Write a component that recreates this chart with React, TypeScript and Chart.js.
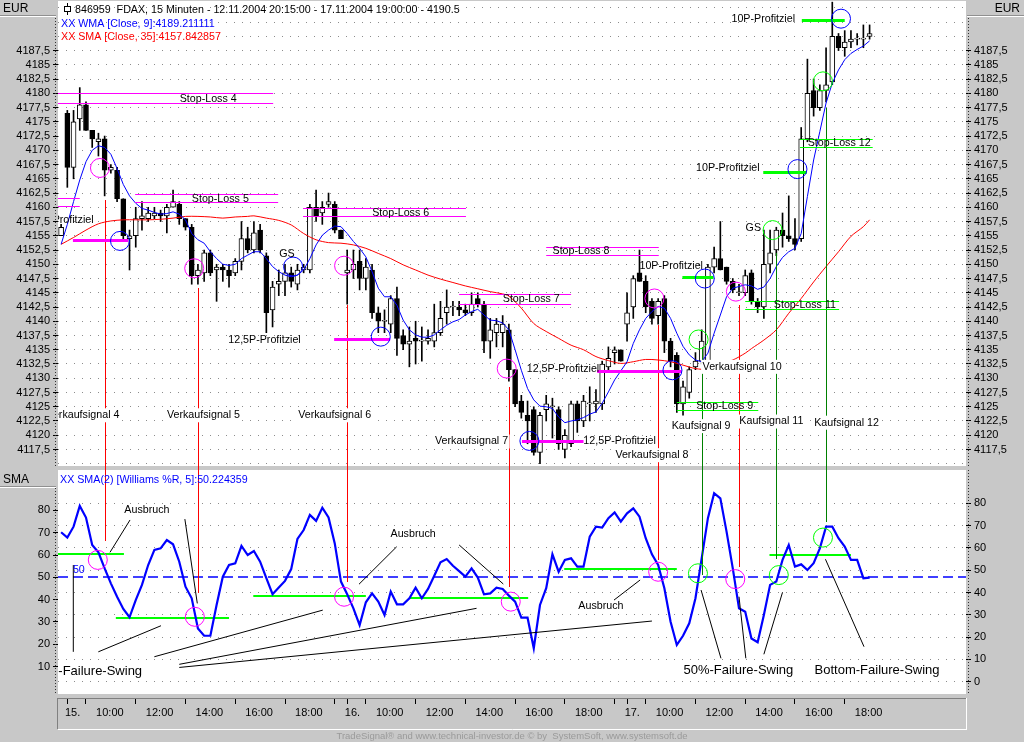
import React, { useEffect, useRef } from "react";
import { Chart, registerables } from "chart.js";

Chart.register(...registerables);
Chart.defaults.font.family = "'Liberation Sans', Arial, sans-serif";
Chart.defaults.font.size = 11;
Chart.defaults.color = "#000";

const GRAY = "#c8c8c8";
const FONT = "10.7px 'Liberation Sans', Arial, sans-serif";
const BIG = "13px 'Liberation Sans', Arial, sans-serif";
const MAG = "#ff00ff";
const GRN = "#00ff00";
const DGRN = "#008000";
const RED = "#ff0000";
const BLUE = "#0000ff";
const RING = 9.5;

// ---- time axis ----
const dayStarts = [1, 46, 91];
const dayNames = ["15.", "16.", "17."];
const hourTicks = ["10:00", "12:00", "14:00", "16:00", "18:00", "20:00"];
const SLOTS = 146;

// ---- price data (15 min bars, 12.11.2004 20:15 - 17.11.2004 19:00) ----
const opens = [
  4155, 4176.5, 4167, 4175.5, 4178, 4173.5, 4171.5, 4172, 4166.5, 4166.5,
  4161.5, 4154.5, 4155, 4158, 4158, 4158.5, 4159, 4158.5, 4160, 4160.5,
  4158, 4156.5, 4148, 4148.5, 4152, 4149, 4149.5, 4149, 4148.5, 4150.5,
  4154.5, 4152.5, 4156, 4151.5, 4142, 4146.5, 4147, 4148.5, 4146.5, 4149,
  4149, 4160, 4159, 4160.5, 4160.5, 4156, 4148.5, 4149, 4150.5, 4147.5,
  4149, 4141.5, 4140, 4139.5, 4144, 4137.5, 4136, 4137, 4136.5, 4136.5,
  4136.5, 4138, 4141.5, 4142.5, 4142.5, 4142, 4141.5, 4144, 4143, 4136.5,
  4138, 4138, 4138.5, 4131.5, 4126, 4123.5, 4124.5, 4117, 4124.5, 4125,
  4124.5, 4117.5, 4118.5, 4125.5, 4122.5, 4125.5, 4125.5, 4125.5, 4132, 4134.5,
  4135, 4139.5, 4142.5, 4148.5, 4147, 4143.5, 4141, 4144, 4136.5, 4134,
  4125.5, 4127.5, 4132, 4133, 4133, 4149.5, 4151, 4149.5, 4147, 4145,
  4145, 4148.5, 4143.5, 4142.5, 4150, 4152.5, 4156, 4155, 4154.5, 4154.5,
  4172, 4180.5, 4177.5, 4180.5, 4182, 4190, 4188, 4189, 4189.5, 4189.5,
  4190,
];
const highs = [
  4157, 4177, 4177, 4181, 4178.5, 4173.5, 4173, 4172.5, 4167.5, 4167,
  4161.5, 4156, 4160, 4161, 4160, 4160, 4159.5, 4160.5, 4163, 4161,
  4158, 4157, 4150, 4152.5, 4152.5, 4150, 4150, 4150, 4151, 4157.5,
  4156.5, 4157.5, 4157, 4152, 4147, 4149, 4150, 4149.5, 4150, 4150,
  4160.5, 4163, 4161, 4162.5, 4161, 4156, 4152.5, 4152.5, 4152.5, 4151,
  4150, 4142.5, 4142, 4144.5, 4146, 4138.5, 4139, 4140, 4139, 4138.5,
  4143, 4143.5, 4145.5, 4143.5, 4143.5, 4143, 4145, 4145, 4143.5, 4140.5,
  4140.5, 4141, 4139.5, 4131.5, 4127, 4126, 4125, 4124, 4127, 4126.5,
  4125, 4121, 4126, 4126, 4127, 4128.5, 4128, 4133, 4135.5, 4135.5,
  4135, 4145, 4148, 4152.5, 4148, 4144, 4144, 4144.5, 4137, 4134.5,
  4129.5, 4132, 4134.5, 4138.5, 4150, 4153, 4157.5, 4149.5, 4147.5, 4146.5,
  4149, 4149, 4144, 4156, 4156, 4156.5, 4159, 4162, 4158, 4174,
  4186, 4182.5, 4181.5, 4188, 4196, 4190.5, 4191, 4191, 4190.5, 4192,
  4192,
];
const lows = [
  4155, 4163.5, 4165, 4173.5, 4173.5, 4170.5, 4169, 4162, 4166, 4161,
  4154, 4149, 4153, 4156, 4157.5, 4158, 4157.5, 4155.5, 4160, 4157,
  4156, 4146.5, 4146.5, 4147, 4148, 4143.5, 4147, 4146, 4148, 4149,
  4152, 4152, 4152, 4138, 4139, 4144.5, 4144.5, 4146, 4145.5, 4148.5,
  4148.5, 4157.5, 4157, 4160, 4155.5, 4154.5, 4143, 4147.5, 4145.5, 4145.5,
  4140.5, 4138, 4138, 4138, 4134, 4135, 4132, 4132.5, 4133, 4136,
  4135.5, 4137.5, 4139.5, 4141, 4141, 4141, 4141, 4142.5, 4134.5, 4133.5,
  4135.5, 4135.5, 4129.5, 4125, 4123, 4118.5, 4116.5, 4115, 4122.5, 4119.5,
  4117.5, 4116, 4118, 4120.5, 4121.5, 4122.5, 4124, 4124.5, 4131.5, 4132.5,
  4133, 4136.5, 4140.5, 4147, 4141.5, 4139.5, 4139.5, 4134.5, 4132, 4124,
  4123.5, 4126.5, 4131.5, 4132.5, 4132.5, 4148.5, 4149, 4146.5, 4145, 4144.5,
  4144.5, 4143, 4141.5, 4140.5, 4148.5, 4151.5, 4153, 4154, 4152.5, 4154,
  4171.5, 4176, 4177, 4178.5, 4181.5, 4187.5, 4186.5, 4188, 4188.5, 4188,
  4189.5,
];
const closes = [
  4156.5, 4167, 4175, 4178, 4173.5, 4172, 4172, 4166.5, 4167, 4161.5,
  4155, 4155, 4158, 4158.5, 4159, 4159, 4158.5, 4160, 4161, 4158,
  4156.5, 4148, 4149, 4152, 4148.5, 4149.5, 4149, 4148, 4150.5, 4154.5,
  4152.5, 4155.5, 4152.5, 4141.5, 4146, 4147, 4148.5, 4147, 4149, 4149.5,
  4160, 4158.5, 4160, 4161, 4156, 4154.5, 4149, 4150, 4147.5, 4149.5,
  4141.5, 4140, 4140, 4144, 4137, 4136, 4136.5, 4136.5, 4136.5, 4137,
  4138, 4140.5, 4142.5, 4142.5, 4142, 4141.5, 4143, 4143, 4136.5, 4138.5,
  4139.5, 4139.5, 4131.5, 4125.5, 4124, 4122.5, 4117, 4123.5, 4125.5, 4125,
  4118.5, 4120, 4125.5, 4122.5, 4126, 4125.5, 4126, 4132.5, 4133.5, 4135,
  4133, 4141.5, 4147.5, 4147, 4142.5, 4140.5, 4143.5, 4136.5, 4133, 4125.5,
  4128.5, 4131.5, 4133, 4136.5, 4149.5, 4151, 4149, 4147, 4145.5, 4145,
  4148, 4143.5, 4142.5, 4150, 4152, 4156, 4155, 4154.5, 4153.5, 4172,
  4180, 4177.5, 4180.5, 4181.5, 4190, 4188, 4189, 4189.5, 4189.5, 4189.5,
  4190.5,
];
// WMA(Close, 9)
const wma9 = [
  4153.5, 4157.0, 4161.0, 4164.8, 4168.0, 4170.0, 4170.8, 4170.5, 4169.3, 4166.8,
  4164.0, 4162.0, 4160.7, 4159.8, 4159.5, 4159.1, 4158.8, 4158.9, 4159.2, 4158.8,
  4157.8, 4155.4, 4154.3, 4153.7, 4152.2, 4151.0, 4150.0, 4149.8, 4150.0, 4151.0,
  4151.6, 4152.2, 4152.2, 4151.0, 4149.6, 4148.7, 4148.1, 4147.8, 4148.1, 4149.0,
  4151.0, 4153.4, 4155.1, 4156.0, 4156.7, 4156.6, 4155.4, 4154.0, 4152.8, 4151.3,
  4148.7, 4145.8, 4144.3, 4144.3, 4142.8, 4140.2, 4138.5, 4137.6, 4137.2, 4137.2,
  4137.6, 4138.5, 4139.3, 4139.9, 4140.3, 4141.1, 4141.7, 4142.1, 4141.1, 4140.2,
  4140.1, 4139.7, 4138.5, 4135.0, 4131.4, 4128.2, 4126.2, 4125.1, 4125.0, 4124.7,
  4123.2, 4122.2, 4122.5, 4122.7, 4123.1, 4123.7, 4124.1, 4125.6, 4127.6, 4129.7,
  4131.3, 4132.9, 4136.1, 4138.5, 4140.5, 4141.7, 4142.6, 4142.3, 4140.5, 4137.9,
  4135.6, 4134.1, 4133.2, 4132.9, 4134.4, 4137.9, 4141.1, 4144.3, 4145.8, 4146.1,
  4146.4, 4146.2, 4145.6, 4146.0, 4147.5, 4149.6, 4151.2, 4152.2, 4152.8, 4155.4,
  4161.9, 4168.3, 4173.3, 4178.3, 4181.8, 4184.1, 4185.9, 4187.0, 4187.7, 4188.3,
  4189.2,
];
// SMA(Close, 35): [bar, value]
const sma35Points = [
  [0, 4153.5], [2, 4154.7], [4, 4156.0], [6, 4157.1], [8, 4157.6], [10, 4157.8],
  [12, 4157.8], [14, 4157.8], [16, 4157.9], [18, 4158.1], [20, 4158.4], [22, 4158.4],
  [24, 4158.3], [26, 4158.1], [28, 4158.3], [30, 4158.4], [31, 4158.5], [33, 4158.1],
  [35, 4157.7], [37, 4156.9], [39, 4155.4], [41, 4154.3], [43, 4153.8], [45, 4153.7],
  [47, 4153.4], [49, 4152.8], [51, 4151.9], [53, 4151.0], [55, 4149.9], [57, 4149.0],
  [59, 4148.1], [61, 4147.4], [63, 4146.8], [65, 4146.2], [67, 4145.7], [69, 4145.2],
  [71, 4144.8], [72, 4144.4], [74, 4142.3], [76, 4139.6], [78, 4138.2], [80, 4137.0],
  [82, 4135.8], [84, 4135.0], [86, 4133.8], [88, 4133.1], [90, 4132.6], [92, 4132.9],
  [94, 4133.3], [96, 4133.2], [98, 4132.9], [100, 4132.3], [102, 4131.7], [104, 4131.6],
  [106, 4132.6], [108, 4133.2], [110, 4134.4], [111, 4135.2], [113, 4136.7], [115, 4138.5],
  [117, 4141.4], [119, 4144.0], [121, 4146.9], [123, 4149.6], [125, 4152.2], [127, 4154.9],
  [129, 4156.6], [130, 4157.8],
];
// SMA(2) of Williams %R(5)
const wpr = [
  70.2, 67.8, 72.7, 82, 76.8, 64.5, 61.2, 54, 47.3, 41.3,
  35.8, 32.1, 39.8, 46.6, 55.5, 62.3, 63, 66.7, 64.8, 57,
  45.8, 40.6, 27.1, 23.8, 23.8, 37.6, 50.3, 55.5, 56.3, 64.1,
  60, 61.8, 57, 49.6, 42.4, 45.4, 48.4, 53.7, 67.2, 71.2,
  78, 75.3, 81.2, 76.8, 65.2, 48.1, 42.4, 36.1, 28.6, 38.8,
  42.8, 39.1, 33.1, 43.6, 37.9, 37.9, 40.6, 45.4, 40.6, 44.8,
  50.7, 56.7, 58.2, 55.2, 52.8, 50.3, 54, 49.9, 42.4, 42.8,
  45.4, 44.8, 41.8, 39.1, 31.9, 31.9, 18.2, 37.6, 45.1, 60.3,
  52.5, 57.8, 58.5, 54.8, 54.8, 68.2, 72.7, 72.3, 76.5, 79.1,
  75, 78.7, 80.9, 77.2, 67.5, 60.3, 55.5, 45.1, 30.1, 19.7,
  23.8, 29.4, 40.6, 58.5, 76.5, 87.7, 85.4, 70.5, 54, 36.1,
  34.6, 22.6, 20.9, 33.1, 46.6, 48.1, 57.8, 64.5, 54.8, 55.8,
  53.3, 56.3, 63, 72.7, 72.7, 67.5, 63.8, 57.8, 57.8, 49.6,
  49.9,
];

// ---- axis ticks ----
const priceGrid = [
  4115, 4117.5, 4120, 4122.5, 4125, 4127.5, 4130, 4132.5, 4135, 4137.5, 4140,
  4142.5, 4145, 4147.5, 4150, 4152.5, 4155, 4157.5, 4160, 4162.5, 4165, 4167.5,
  4170, 4172.5, 4175, 4177.5, 4180, 4182.5, 4185, 4187.5, 4190, 4192.5, 4195,
];
const priceLabelRange = [4117.5, 4187.5];
const oscLeftTicks = [10, 20, 30, 40, 50, 60, 70, 80];
const oscRightTicks = [0, 10, 20, 30, 40, 50, 60, 70, 80];

// ---- annotations (bar index, price / oscillator value) ----
const sellStops = [
  [-0.7, 34.1, 4180, 4178.35],
  [-0.7, 3.0, 4161.7, 4160.3],
  [11.9, 34.9, 4162.3, 4160.9],
  [38.9, 65.1, 4159.8, 4158.4],
  [64.0, 82.0, 4144.7, 4143.1],
  [78.0, 96.1, 4153.1, 4151.6],
];
const buyStops = [
  [99.0, 112.1, 4125.9, 4124.4],
  [110.0, 125.1, 4143.6, 4142.1],
  [118.8, 130.5, 4171.9, 4170.5],
];
const sellTargets = [
  [1.9, 10.8, 4154.25],
  [43.9, 52.9, 4136.9],
  [74.1, 84.0, 4119.0],
  [86.2, 99.8, 4131.3],
];
const buyTargets = [
  [99.9, 104.9, 4147.7],
  [112.9, 119.9, 4166.25],
  [119.1, 126.0, 4192.9],
];
const sellSignals = [
  [7, 4161.3, 66.3], [22, 4145.8, 43.1], [46, 4142.85, 48],
  [72, 4128.4, 45.8], [96, 4139.3, 57.8], [109, 4142.85, 54.8],
];
const buySignals = [[103, 4135.5, 51], [115, 4152.0, 58.3], [123, 4177.4, 74.8]];
const sellRings = [
  [6.25, 4166.9], [21.4, 4149.3], [45.5, 4149.75], [71.65, 4131.7], [95.4, 4144.0], [108.5, 4145.2],
];
const buyRings = [[102.5, 4136.8], [114.4, 4156.0], [122.5, 4182.1]];
const targetRings = [
  [9.47, 4154.1], [37.3, 4149.6], [51.4, 4137.3], [75.3, 4119.0],
  [98.3, 4131.4], [103.5, 4147.5], [118.4, 4166.7], [125.4, 4193.1],
];
const stopNotes = [
  ["Stop-Loss 4", 23.65, 4179.0], ["Stop-Loss 5", 25.6, 4161.45], ["Stop-Loss 6", 54.6, 4159.0],
  ["Stop-Loss 7", 75.6, 4143.9], ["Stop-Loss 8", 83.6, 4152.3], ["Stop-Loss 9", 106.7, 4125.1],
  ["Stop-Loss 11", 119.6, 4142.85], ["Stop-Loss 12", 125.1, 4171.2],
];
const targetNotes = [
  ["12,5P-Profitziel", -0.6, 4157.8], ["12,5P-Profitziel", 32.7, 4136.7],
  ["12,5P-Profitziel", 80.7, 4131.6], ["12,5P-Profitziel", 89.8, 4118.9],
  ["10P-Profitziel", 98.1, 4149.75], ["10P-Profitziel", 107.2, 4166.9],
  ["10P-Profitziel", 112.9, 4193.07], ["GS", 36.3, 4151.8], ["GS", 111.3, 4156.3],
];
const signalNotes = [
  ["Verkaufsignal 4", 3.5, 4123.5], ["Verkaufsignal 5", 22.9, 4123.5],
  ["Verkaufsignal 6", 44.0, 4123.5], ["Verkaufsignal 7", 66.0, 4118.9],
  ["Verkaufsignal 8", 95.0, 4116.5], ["Kaufsignal 9", 102.9, 4121.6],
  ["Verkaufsignal 10", 109.5, 4132.0], ["Kaufsignal 11", 114.2, 4122.4],
  ["Kaufsignal 12", 126.3, 4122.2],
];
const oscBands = [
  [-0.55, 10.1, 60.6], [8.8, 27.0, 31.9], [30.9, 49.0, 41.8],
  [56.0, 75.1, 40.9], [80.9, 99.0, 53.7], [113.9, 127.0, 59.9],
];
const oscSellRings = [[5.9, 57.8], [21.5, 32.3], [45.5, 41.3], [72.3, 39.1], [96.0, 52.5], [108.4, 49.2]];
const oscBuyRings = [[102.4, 51.8], [115.4, 51.0], [122.5, 67.8]];
const oscPointers = [
  [7.86, 61.2, 11.08, 75.7], [19.9, 76.1, 21.9, 38.3], [5.98, 16.6, 16.06, 28.3],
  [14.99, 14.4, 42.07, 35.3], [19.0, 11.0, 66.8, 36.1], [19.0, 9.6, 95.0, 30.4],
  [53.96, 63.7, 47.9, 46.9], [64.0, 64.5, 71.1, 47.0], [1.96, 55.5, 1.96, 16.6],
  [93.1, 48.8, 88.9, 39.8], [102.9, 44.3, 106.1, 13.7], [109.0, 41.3, 110.1, 13.7],
  [116.0, 43.3, 113.0, 15.5], [122.9, 58.1, 129.1, 18.9],
];
const oscNotes = [["Ausbruch", 13.8, 80.2], ["Ausbruch", 56.6, 69.4], ["Ausbruch", 86.8, 37.0]];
const swingNotes = [
  ["Top-Failure-Swing", 4.6, 7.7], ["50%-Failure-Swing", 108.9, 8.4], ["Bottom-Failure-Swing", 131.2, 8.4],
];
const midLevel = 50;
const midNote = ["50", 1.9, 53.1];

// ---- derived tables ----
const barCount = closes.length;
function barTime(i: number): string {
  if (i >= barCount) return "";
  if (i < dayStarts[0]) return "12.11. 20:15";
  let d = 0;
  for (let k = 0; k < dayStarts.length; k++) if (i >= dayStarts[k]) d = k;
  const m = 9 * 60 + 15 + 15 * (i - dayStarts[d]);
  const hh = Math.floor(m / 60), mm = m % 60;
  return dayNames[d] + " " + hh + ":" + (mm < 10 ? "0" : "") + mm;
}
const categories: string[] = [];
for (let i = 0; i < SLOTS; i++) categories.push(barTime(i));
const tickBars = new Set<number>();
const labelAt: Record<number, string> = {};
dayStarts.forEach((s, d) => {
  tickBars.add(s);
  labelAt[s + 1] = dayNames[d];
  const last = d < dayStarts.length - 1 ? dayStarts[d + 1] - 1 : barCount - 1;
  hourTicks.forEach((h, j) => {
    const b = s + 3 + 8 * j;
    if (b <= last) {
      tickBars.add(b);
      if (h !== "20:00") labelAt[b + 4] = h;
    }
  });
});
const smaSeries: (number | null)[] = new Array(barCount).fill(null);
sma35Points.forEach(([i, v]) => { smaSeries[i] = v; });

const fmtPrice = (v: number) => (Number.isInteger(v) ? String(v) : v.toFixed(1).replace(".", ","));

function note(ctx: any, text: string, x: number, y: number, color: string, font: string, bg?: string) {
  ctx.font = font;
  ctx.textAlign = "center";
  ctx.textBaseline = "middle";
  if (bg) {
    const w = ctx.measureText(text).width;
    ctx.fillStyle = bg;
    ctx.fillRect(x - w / 2 - 1.5, y - 7, w + 3, 14);
  }
  ctx.fillStyle = color;
  ctx.fillText(text, x, y);
}
function hseg(ctx: any, x0: number, x1: number, y: number, color: string, w: number) {
  ctx.strokeStyle = color;
  ctx.lineWidth = w;
  const yy = w % 2 === 1 ? Math.round(y) + 0.5 : Math.round(y);
  ctx.beginPath();
  ctx.moveTo(x0, yy);
  ctx.lineTo(x1, yy);
  ctx.stroke();
}
function ring(ctx: any, x: number, y: number, color: string) {
  ctx.strokeStyle = color;
  ctx.lineWidth = 1;
  ctx.beginPath();
  ctx.arc(x, y, RING, 0, Math.PI * 2);
  ctx.stroke();
}
function dottedV(ctx: any, x: number, y0: number, y1: number) {
  ctx.save();
  ctx.strokeStyle = "#303030";
  ctx.lineWidth = 1;
  ctx.setLineDash([1, 2]);
  ctx.beginPath();
  ctx.moveTo(x, y0);
  ctx.lineTo(x, y1);
  ctx.stroke();
  ctx.restore();
}
function headBox(ctx: any, x: number, y: number, w: number, h: number, text: string, align: string) {
  ctx.fillStyle = GRAY;
  ctx.fillRect(x, y, w, h);
  ctx.strokeStyle = "#ffffff";
  ctx.lineWidth = 1;
  ctx.beginPath();
  ctx.moveTo(x, y + h + 0.5);
  ctx.lineTo(x + w, y + h + 0.5);
  ctx.stroke();
  ctx.strokeStyle = "#909090";
  ctx.beginPath();
  ctx.moveTo(x, y + h - 0.5);
  ctx.lineTo(x + w, y + h - 0.5);
  ctx.stroke();
  ctx.font = "12px 'Liberation Sans', Arial, sans-serif";
  ctx.fillStyle = "#000";
  ctx.textBaseline = "middle";
  ctx.textAlign = align;
  ctx.fillText(text, align === "left" ? x + 3 : x + w - 4, y + h / 2 + 0.5);
}

const topDecor = {
  id: "topDecor",
  beforeDraw(chart: any) {
    const { ctx, chartArea: a, width, height } = chart;
    ctx.save();
    ctx.fillStyle = GRAY;
    ctx.fillRect(0, 0, width, height);
    ctx.fillStyle = "#fff";
    ctx.fillRect(a.left, a.top, a.right - a.left, a.bottom - a.top);
    ctx.restore();
  },
  afterDatasetsDraw(chart: any) {
    const { ctx, chartArea: a, height } = chart;
    const X = (i: number) => chart.scales.x.getPixelForValue(i);
    const Y = (v: number) => chart.scales.y.getPixelForValue(v);
    ctx.save();
    ctx.lineWidth = 1;
    const vline = (s: number[], color: string) => {
      const x = Math.round(X(s[0])) + 0.5;
      ctx.strokeStyle = color;
      ctx.beginPath();
      ctx.moveTo(x, Math.round(Y(s[1])));
      ctx.lineTo(x, height);
      ctx.stroke();
    };
    sellSignals.forEach((s) => vline(s, RED));
    buySignals.forEach((s) => vline(s, DGRN));
    ctx.beginPath();
    ctx.rect(a.left, a.top, a.right - a.left, a.bottom - a.top);
    ctx.clip();
    sellStops.forEach(([x0, x1, p1, p2]) => { hseg(ctx, X(x0), X(x1), Y(p1), MAG, 1); hseg(ctx, X(x0), X(x1), Y(p2), MAG, 1); });
    buyStops.forEach(([x0, x1, p1, p2]) => { hseg(ctx, X(x0), X(x1), Y(p1), GRN, 1); hseg(ctx, X(x0), X(x1), Y(p2), GRN, 1); });
    sellTargets.forEach(([x0, x1, p]) => hseg(ctx, X(x0), X(x1), Y(p), MAG, 3));
    buyTargets.forEach(([x0, x1, p]) => hseg(ctx, X(x0), X(x1), Y(p), GRN, 3));
    sellRings.forEach(([i, p]) => ring(ctx, X(i), Y(p), MAG));
    buyRings.forEach(([i, p]) => ring(ctx, X(i), Y(p), GRN));
    targetRings.forEach(([i, p]) => ring(ctx, X(i), Y(p), BLUE));
    stopNotes.forEach(([t, i, p]: any) => note(ctx, t, X(i), Y(p), "#000", FONT));
    targetNotes.forEach(([t, i, p]: any) => note(ctx, t, X(i), Y(p), "#000", FONT));
    signalNotes.forEach(([t, i, p]: any) => note(ctx, t, X(i), Y(p), "#000", FONT, "#fff"));
    ctx.restore();
  },
  afterDraw(chart: any) {
    const { ctx, chartArea: a, height } = chart;
    ctx.save();
    headBox(ctx, 0, 0, 56, 16, "EUR", "left");
    headBox(ctx, a.right + 1, 0, 1024 - a.right - 1, 16, "EUR", "right");
    dottedV(ctx, 55.5, 18, height);
    dottedV(ctx, a.right + 2.5, 18, height);
    // series icon
    ctx.strokeStyle = "#000";
    ctx.lineWidth = 1;
    ctx.beginPath();
    ctx.moveTo(67.5, 3);
    ctx.lineTo(67.5, 15);
    ctx.stroke();
    ctx.fillStyle = "#fff";
    ctx.fillRect(64.5, 6.5, 6, 5);
    ctx.strokeRect(64.5, 6.5, 6, 5);
    ctx.font = FONT;
    ctx.textAlign = "left";
    ctx.textBaseline = "middle";
    ctx.fillStyle = "#000";
    ctx.fillText("846959  FDAX, 15 Minuten - 12.11.2004 20:15:00 - 17.11.2004 19:00:00 - 4190.5", 75, 10);
    ctx.fillStyle = BLUE;
    ctx.fillText("XX WMA [Close, 9]:4189.211111", 61, 24);
    ctx.fillStyle = RED;
    ctx.fillText("XX SMA [Close, 35]:4157.842857", 61, 37.5);
    ctx.restore();
  },
};

const bottomDecor = {
  id: "bottomDecor",
  beforeDraw(chart: any) {
    const { ctx, chartArea: a, width, height } = chart;
    ctx.save();
    ctx.fillStyle = GRAY;
    ctx.fillRect(0, 0, width, height);
    ctx.fillStyle = "#fff";
    ctx.fillRect(a.left, a.top, a.right - a.left, a.bottom - a.top);
    ctx.restore();
  },
  beforeDatasetsDraw(chart: any) {
    const { ctx, chartArea: a } = chart;
    const X = (i: number) => chart.scales.x.getPixelForValue(i);
    const Y = (v: number) => chart.scales.y.getPixelForValue(v);
    ctx.save();
    ctx.beginPath();
    ctx.rect(a.left, a.top, a.right - a.left, a.bottom - a.top);
    ctx.clip();
    ctx.setLineDash([10, 5]);
    hseg(ctx, a.left, a.right, Y(midLevel), BLUE, 1.4);
    ctx.setLineDash([]);
    oscBands.forEach(([x0, x1, v]) => hseg(ctx, X(x0), X(x1), Y(v), GRN, 2));
    ctx.restore();
  },
  afterDatasetsDraw(chart: any) {
    const { ctx, chartArea: a } = chart;
    const X = (i: number) => chart.scales.x.getPixelForValue(i);
    const Y = (v: number) => chart.scales.y.getPixelForValue(v);
    ctx.save();
    ctx.lineWidth = 1;
    const vline = (s: number[], color: string) => {
      const x = Math.round(X(s[0])) + 0.5;
      ctx.strokeStyle = color;
      ctx.beginPath();
      ctx.moveTo(x, 0);
      ctx.lineTo(x, Math.round(Y(s[2])));
      ctx.stroke();
    };
    sellSignals.forEach((s) => vline(s, RED));
    buySignals.forEach((s) => vline(s, DGRN));
    ctx.beginPath();
    ctx.rect(a.left, a.top, a.right - a.left, a.bottom - a.top);
    ctx.clip();
    ctx.strokeStyle = "#000";
    ctx.lineWidth = 1;
    oscPointers.forEach(([i0, v0, i1, v1]) => {
      ctx.beginPath();
      ctx.moveTo(X(i0), Y(v0));
      ctx.lineTo(X(i1), Y(v1));
      ctx.stroke();
    });
    oscSellRings.forEach(([i, v]) => ring(ctx, X(i), Y(v), MAG));
    oscBuyRings.forEach(([i, v]) => ring(ctx, X(i), Y(v), GRN));
    oscNotes.forEach(([t, i, v]: any) => note(ctx, t, X(i), Y(v), "#000", FONT));
    swingNotes.forEach(([t, i, v]: any) => note(ctx, t, X(i), Y(v), "#000", BIG));
    ctx.font = FONT;
    ctx.textAlign = "left";
    ctx.textBaseline = "middle";
    ctx.fillStyle = BLUE;
    ctx.fillText(midNote[0] as string, X(midNote[1] as number), Y(midNote[2] as number));
    ctx.fillText("XX SMA(2) [Williams %R, 5]:50.224359", 60, a.top + 10);
    ctx.restore();
  },
  afterDraw(chart: any) {
    const { ctx, chartArea: a } = chart;
    ctx.save();
    ctx.fillStyle = GRAY;
    ctx.fillRect(a.left - 1, a.bottom, a.right - a.left + 2, 4);
    const top = a.bottom + 4;
    const bot = top + 31;
    ctx.lineWidth = 1;
    ctx.strokeStyle = "#808080";
    ctx.beginPath();
    ctx.moveTo(a.left - 0.5, top);
    ctx.lineTo(a.left - 0.5, bot);
    ctx.moveTo(a.left, top + 0.5);
    ctx.lineTo(a.right, top + 0.5);
    ctx.stroke();
    ctx.strokeStyle = "#ffffff";
    ctx.beginPath();
    ctx.moveTo(a.left, bot + 0.5);
    ctx.lineTo(a.right + 1, bot + 0.5);
    ctx.moveTo(a.right + 0.5, top);
    ctx.lineTo(a.right + 0.5, bot);
    ctx.stroke();
    headBox(ctx, 0, 4, 56, 15, "SMA", "left");
    dottedV(ctx, 55.5, 20, a.bottom);
    dottedV(ctx, a.right + 2.5, a.top, a.bottom);
    ctx.font = "9.5px 'Liberation Sans', Arial, sans-serif";
    ctx.fillStyle = "#9a9a9a";
    ctx.textAlign = "center";
    ctx.textBaseline = "middle";
    ctx.fillText("TradeSignal\u00ae and www.technical-investor.de \u00a9 by  SystemSoft, www.systemsoft.de", 512, 268);
    ctx.restore();
  },
};

// fixed axis width, and no automatic half-label padding at the ends
const fixW = (w: number) => (s: any) => {
  s.width = w;
  s.paddingTop = 0;
  s.paddingBottom = 0;
};
const tickMarkColor = (lo: number, hi: number) => (c: any) =>
  c.tick && c.tick.value >= lo && c.tick.value <= hi ? "#000" : "rgba(0,0,0,0)";

function priceAxis(position: string, onArea: boolean) {
  return {
    type: "linear",
    position,
    min: 4114.6,
    max: 4196.2,
    afterBuildTicks: (ax: any) => { ax.ticks = priceGrid.map((v) => ({ value: v })); },
    afterFit: fixW(58),
    grid: {
      drawOnChartArea: onArea,
      color: "#8c8c8c",
      lineWidth: 1,
      drawTicks: true,
      tickLength: 5,
      tickColor: tickMarkColor(priceLabelRange[0], priceLabelRange[1]),
    },
    border: { display: false, dash: [1, 7] },
    ticks: {
      autoSkip: false,
      padding: 3,
      color: "#000",
      font: { size: 11 },
      callback: (v: any) => (v >= priceLabelRange[0] && v <= priceLabelRange[1] ? fmtPrice(v) : ""),
    },
  };
}
function oscAxis(position: string, min: number, max: number, ticks: number[], onArea: boolean) {
  return {
    type: "linear",
    position,
    min,
    max,
    afterBuildTicks: (ax: any) => { ax.ticks = ticks.map((v) => ({ value: v })); },
    afterFit: fixW(58),
    grid: {
      drawOnChartArea: onArea,
      color: "#8c8c8c",
      lineWidth: 1,
      drawTicks: true,
      tickLength: 5,
      tickColor: "#000",
    },
    border: { display: false, dash: [1, 7] },
    ticks: { autoSkip: false, padding: 3, color: "#000", font: { size: 11 } },
  };
}

export default function App() {
  const topRef = useRef<HTMLCanvasElement>(null);
  const botRef = useRef<HTMLCanvasElement>(null);
  useEffect(() => {
    document.body.style.margin = "0";
    const top = new Chart(topRef.current as HTMLCanvasElement, {
      type: "bar",
      data: {
        labels: categories,
        datasets: [
          {
            type: "line",
            label: "WMA 9",
            data: wma9,
            borderColor: BLUE,
            borderWidth: 1,
            pointRadius: 0,
            tension: 0,
            order: 0,
          },
          {
            type: "line",
            label: "SMA 35",
            data: smaSeries,
            borderColor: RED,
            borderWidth: 1,
            pointRadius: 0,
            spanGaps: true,
            tension: 0.3,
            order: 0,
          },
          {
            type: "bar",
            label: "body",
            data: opens.map((o, i) => [o, closes[i]]),
            backgroundColor: opens.map((o, i) => (closes[i] >= o ? "#ffffff" : "#000000")),
            borderColor: "#000",
            borderWidth: 1,
            borderSkipped: false,
            barThickness: 5,
            minBarLength: 1,
            grouped: false,
            order: 1,
          },
          {
            type: "bar",
            label: "wick",
            data: lows.map((l, i) => [l, highs[i]]),
            backgroundColor: "#000",
            borderWidth: 0,
            barThickness: 1,
            grouped: false,
            order: 2,
          },
        ],
      } as any,
      options: {
        responsive: false,
        animation: false,
        events: [],
        layout: { autoPadding: false, padding: { top: 1, bottom: 2, left: 0, right: 0 } },
        plugins: { legend: { display: false }, tooltip: { enabled: false } },
        scales: {
          x: { type: "category", offset: true, display: false, grid: { display: false } },
          y: priceAxis("left", true),
          y1: priceAxis("right", false),
        },
      } as any,
      plugins: [topDecor],
    });
    const bot = new Chart(botRef.current as HTMLCanvasElement, {
      type: "line",
      data: {
        labels: categories,
        datasets: [
          {
            label: "SMA(2) Williams %R",
            data: wpr,
            borderColor: BLUE,
            borderWidth: 2.2,
            pointRadius: 0,
            tension: 0,
            yAxisID: "y",
          },
        ],
      },
      options: {
        responsive: false,
        animation: false,
        events: [],
        layout: { autoPadding: false, padding: { top: 2, bottom: 0, left: 0, right: 0 } },
        plugins: { legend: { display: false }, tooltip: { enabled: false } },
        scales: {
          x: {
            type: "category",
            offset: true,
            afterFit: (s: any) => { s.height = 48; s.paddingLeft = 0; s.paddingRight = 0; },
            grid: {
              display: true,
              offset: false,
              drawOnChartArea: false,
              drawTicks: true,
              tickLength: 10,
              color: "rgba(0,0,0,0)",
              tickColor: (c: any) => (tickBars.has(c.index) ? "#000" : "rgba(0,0,0,0)"),
            },
            border: { display: false },
            ticks: {
              autoSkip: false,
              maxRotation: 0,
              minRotation: 0,
              padding: 2,
              labelOffset: -1,
              color: "#000",
              font: { size: 11 },
              callback: (_v: any, i: number) => labelAt[i] ?? "",
            },
          },
          y: oscAxis("left", -2.3, 98.1, oscLeftTicks, false),
          y1: oscAxis("right", -5.5, 94.9, oscRightTicks, true),
        },
      } as any,
      plugins: [bottomDecor],
    });
    return () => {
      top.destroy();
      bot.destroy();
    };
  }, []);
  return (
    <div style={{ position: "fixed", left: 0, top: 0, width: 1024, height: 742, background: GRAY, overflow: "hidden" }}>
      <canvas ref={topRef} width={1024} height={468} style={{ position: "absolute", left: 0, top: 0, width: 1024, height: 468 }} />
      <canvas ref={botRef} width={1024} height={274} style={{ position: "absolute", left: 0, top: 468, width: 1024, height: 274 }} />
    </div>
  );
}
